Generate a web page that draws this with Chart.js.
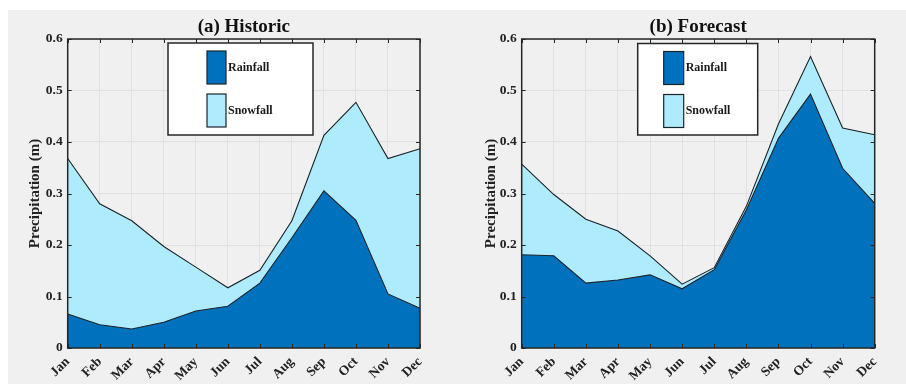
<!DOCTYPE html>
<html>
<head>
<meta charset="utf-8">
<script src="https://cdn.jsdelivr.net/npm/chart.js@4.4.1/dist/chart.umd.min.js"></script>
<style>
  html, body { margin: 0; padding: 0; background: #ffffff; }
  #bg { position: absolute; left: 8px; top: 10px; width: 898px; height: 374px; background: #f0f0f0; }
  .box { position: absolute; top: 10px; height: 374px; }
  #boxA { left: 8px; width: 445px; }
  #boxB { left: 462px; width: 444px; }
</style>
</head>
<body>
<div id="bg"></div>
<div class="box" id="boxA"><canvas id="cA"></canvas></div>
<div class="box" id="boxB"><canvas id="cB"></canvas></div>
<script>
// ---- data ----
const months = ['Jan','Feb','Mar','Apr','May','Jun','Jul','Aug','Sep','Oct','Nov','Dec'];
const yTicks = [0, 0.1, 0.2, 0.3, 0.4, 0.5, 0.6];
const seriesNames = ['Rainfall', 'Snowfall'];
const historicRainfall = [0.066, 0.045, 0.037, 0.050, 0.072, 0.081, 0.126, 0.214, 0.305, 0.248, 0.105, 0.077];
const historicSnowfall = [0.302, 0.235, 0.210, 0.147, 0.085, 0.036, 0.025, 0.033, 0.108, 0.229, 0.263, 0.310];
const forecastRainfall = [0.181, 0.179, 0.126, 0.132, 0.142, 0.115, 0.152, 0.268, 0.407, 0.493, 0.349, 0.281];
const forecastSnowfall = [0.176, 0.119, 0.124, 0.095, 0.037, 0.009, 0.004, 0.007, 0.028, 0.073, 0.078, 0.133];

const SERIF = '"Liberation Serif", "DejaVu Serif", serif';
const RAIN = '#0072BD';
const SNOW = '#AEEBFC';
const EDGE = '#1c2328';
const AXIS = '#262626';

const frameLegend = {
  id: 'frameLegend',
  afterDatasetsDraw(chart, args, opts) {
    const ctx = chart.ctx;
    const a = chart.chartArea;
    ctx.save();
    // inward tick marks (MATLAB style)
    ctx.strokeStyle = AXIS;
    ctx.lineWidth = 1;
    const ys = chart.scales.y, xs = chart.scales.x;
    ys.ticks.forEach(t => {
      const y = Math.round(ys.getPixelForValue(t.value)) + 0.5;
      ctx.beginPath();
      ctx.moveTo(a.left, y); ctx.lineTo(a.left + 4, y);
      ctx.moveTo(a.right, y); ctx.lineTo(a.right - 4, y);
      ctx.stroke();
    });
    xs.ticks.forEach((t, i) => {
      const x = Math.round(xs.getPixelForTick(i)) + 0.5;
      ctx.beginPath();
      ctx.moveTo(x, a.bottom); ctx.lineTo(x, a.bottom - 4);
      ctx.moveTo(x, a.top); ctx.lineTo(x, a.top + 4);
      ctx.stroke();
    });
    // axes box
    ctx.lineWidth = 1.5;
    ctx.strokeRect(a.left, a.top, a.right - a.left, a.bottom - a.top);
    // legend box
    const bx = a.left + opts.dx, by = a.top + opts.dy;
    ctx.fillStyle = '#ffffff';
    ctx.fillRect(bx, by, opts.w, opts.h);
    ctx.lineWidth = 1.5;
    ctx.strokeStyle = AXIS;
    ctx.strokeRect(bx, by, opts.w, opts.h);
    chart.data.datasets.forEach((ds, i) => {
      const px = bx + opts.px, py = by + opts.py[i];
      ctx.fillStyle = ds.backgroundColor;
      ctx.fillRect(px, py, opts.pw, opts.ph);
      ctx.lineWidth = 1.2;
      ctx.strokeStyle = EDGE;
      ctx.strokeRect(px, py, opts.pw, opts.ph);
      ctx.fillStyle = '#1a1a1a';
      ctx.font = 'bold 12px ' + SERIF;
      ctx.textAlign = 'left';
      ctx.textBaseline = 'middle';
      ctx.fillText(ds.label, px + opts.pw + 2, py + opts.ph / 2);
    });
    ctx.restore();
  }
};

function makeChart(id, title, rain, snow, o) {
  return new Chart(document.getElementById(id), {
    type: 'line',
    data: {
      labels: months,
      datasets: [
        { label: seriesNames[0], data: rain, backgroundColor: RAIN, borderColor: EDGE, borderWidth: 1.1,
          fill: 'origin', pointRadius: 0, tension: 0 },
        { label: seriesNames[1], data: snow, backgroundColor: SNOW, borderColor: EDGE, borderWidth: 1.1,
          fill: '-1', pointRadius: 0, tension: 0 }
      ]
    },
    options: {
      responsive: true,
      maintainAspectRatio: false,
      animation: false,
      layout: { padding: { left: 0, right: o.rightPad, top: 0, bottom: 0 } },
      plugins: {
        legend: { display: false },
        tooltip: { enabled: false },
        title: {
          display: true, text: title, fullSize: false, color: '#111111',
          font: { family: SERIF, size: 19, weight: 'bold' },
          padding: { top: 5.2, bottom: 1 }
        },
        frameLegend: o
      },
      scales: {
        x: {
          offset: false,
          grid: { color: '#e1e1e1', lineWidth: 1, drawTicks: false },
          border: { display: false },
          ticks: {
            autoSkip: false, maxRotation: 45, minRotation: 45, padding: 6,
            color: '#222222', font: { family: SERIF, size: 13.5, weight: 'bold' }
          },
          afterFit(s) { s.height = 36; }
        },
        y: {
          stacked: true, min: 0, max: 0.6,
          afterBuildTicks(s) { s.ticks = yTicks.map(v => ({ value: v })); },
          grid: { color: '#e1e1e1', lineWidth: 1, drawTicks: false },
          border: { display: false },
          ticks: {
            padding: 5, color: '#222222',
            font: { family: SERIF, size: 13.5, weight: 'bold' },
            callback: v => String(Math.round(v * 10) / 10)
          },
          title: {
            display: true, text: 'Precipitation (m)', color: '#222222',
            font: { family: SERIF, size: 15, weight: 'bold' },
            padding: { top: o.yTitlePad, bottom: 0 }
          },
          afterFit(s) { s.width = 59.7; }
        }
      }
    },
    plugins: [frameLegend]
  });
}

makeChart('cA', '(a) Historic', historicRainfall, historicSnowfall,
  { dx: 100.3, dy: 4, w: 145, h: 92, px: 39, pw: 19, ph: 33, py: [8, 51], rightPad: 33, yTitlePad: 18.3 });
makeChart('cB', '(b) Forecast', forecastRainfall, forecastSnowfall,
  { dx: 116, dy: 4.5, w: 120, h: 91.5, px: 26, pw: 20, ph: 33, py: [8, 51], rightPad: 31.3, yTitlePad: 20 });
</script>
</body>
</html>
